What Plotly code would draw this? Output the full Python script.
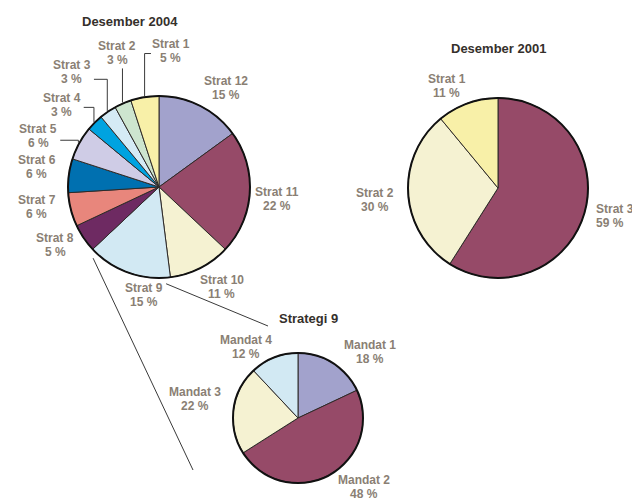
import math
import plotly.graph_objects as go

W, H = 632, 500

# ---------------- data ----------------
p1_title = "Desember 2004"
p1_labels = ["Strat 1", "Strat 2", "Strat 3", "Strat 4", "Strat 5", "Strat 6",
             "Strat 7", "Strat 8", "Strat 9", "Strat 10", "Strat 11", "Strat 12"]
p1_values = [5, 3, 3, 3, 6, 6, 6, 5, 15, 11, 22, 15]

p2_title = "Desember 2001"
p2_labels = ["Strat 1", "Strat 2", "Strat 3"]
p2_values = [11, 30, 59]

p3_title = "Strategi 9"
p3_labels = ["Mandat 1", "Mandat 2", "Mandat 3", "Mandat 4"]
p3_values = [18, 48, 22, 12]

# ---------------- styles ----------------
p1_colors = ["#F8F0A8", "#CDE5CF", "#D5EBF5", "#00A3E0", "#CFCCE6", "#0070B0",
             "#E8867C", "#6E2A62", "#D2E9F3", "#F5F2D2", "#964A68", "#A2A2CC"]
p2_colors = ["#F8F0A8", "#F5F2D2", "#964A68"]
p3_colors = ["#A2A2CC", "#964A68", "#F5F2D2", "#D2E9F3"]

# pie geometry (pixels): center x, center y, radius, slice direction from 12 o'clock
P1 = dict(cx=159, cy=187, r=91, direction="counterclockwise")
P2 = dict(cx=498, cy=188, r=90, direction="counterclockwise")
P3 = dict(cx=298, cy=418, r=65, direction="clockwise")

# label placement: (angle nudge in degrees, distance from centre in px)
p1_lab = [(14, 137), (6, 140), (-3, 144), (-5, 127), (-6, 131), (2, 124),
          (5, 124), (5, 119), (-12, 109), (-5, 118), (2, 119), (7, 120)]
p2_lab = [(-7, 114), (-2, 124), (-3, 121)]
p3_lab = [(15, 98), (-15, 96), (3, 105), (-15, 88)]

FONT_FAMILY = "Liberation Sans Narrow, Arial Narrow, sans-serif"
LABEL_FONT = dict(family=FONT_FAMILY, size=12, color="#8A7F74")
TITLE_FONT = dict(family=FONT_FAMILY, size=13, color="#35302B")
LINE_GAP = 14   # px between the two label lines


def px(x):
    return x / W


def py(y):
    return 1 - y / H


def mid_angles(values, direction):
    """Clockwise angle from 12 o'clock of each slice centre."""
    tot = sum(values)
    out, cum = [], 0
    for v in values:
        frac = (cum + v / 2) / tot
        out.append(frac * 360 if direction == "clockwise" else 360 - frac * 360)
        cum += v
    return out


def edge_angles(values, direction):
    tot = sum(values)
    out, cum = [], 0
    for v in values:
        cum += v
        frac = cum / tot
        out.append(frac * 360 if direction == "clockwise" else 360 - frac * 360)
    return out


def polar(p, ang, d):
    t = math.radians(ang)
    return p["cx"] + d * math.sin(t), p["cy"] - d * math.cos(t)


def domain(p):
    return dict(x=[px(p["cx"] - p["r"]), px(p["cx"] + p["r"])],
                y=[py(p["cy"] + p["r"]), py(p["cy"] - p["r"])])


fig = go.Figure()
annotations = []
shapes = []
label_pos = {}

for key, p, labels, values, colors, lab in [
    ("p1", P1, p1_labels, p1_values, p1_colors, p1_lab),
    ("p2", P2, p2_labels, p2_values, p2_colors, p2_lab),
    ("p3", P3, p3_labels, p3_values, p3_colors, p3_lab),
]:
    # counter-clockwise order is drawn as the reversed clockwise sequence
    if p["direction"] == "counterclockwise":
        t_labels, t_values, t_colors = labels[::-1], values[::-1], colors[::-1]
    else:
        t_labels, t_values, t_colors = labels, values, colors
    fig.add_trace(go.Pie(
        labels=t_labels, values=t_values, sort=False, direction="clockwise",
        rotation=0, domain=domain(p), textinfo="none", hoverinfo="label+percent",
        marker=dict(colors=t_colors, line=dict(color="#2E2A28", width=1)),
        showlegend=False,
    ))
    d = domain(p)
    shapes.append(dict(type="circle", xref="paper", yref="paper",
                       x0=d["x"][0], x1=d["x"][1], y0=d["y"][0], y1=d["y"][1],
                       line=dict(color="#111111", width=2), layer="above"))
    mids = mid_angles(values, p["direction"])
    label_pos[key] = []
    for i, (lbl, v) in enumerate(zip(labels, values)):
        nudge, dist = lab[i]
        x, y = polar(p, mids[i] + nudge, dist)
        label_pos[key].append((x, y))
        xanchor = "center"
        if key == "p2" and i == 2:
            x -= 21
            xanchor = "left"
        for txt, dy in [(lbl, -LINE_GAP / 2), (f"{v} %", LINE_GAP / 2)]:
            annotations.append(dict(
                x=px(x), y=py(y + dy), xref="paper", yref="paper", showarrow=False,
                text=f"<b>{txt}</b>", font=LABEL_FONT, align="center",
                xanchor=xanchor, yanchor="middle", borderpad=0,
            ))

# titles
for t, (x, y) in [(p1_title, (130, 21)), (p2_title, (498, 49)), (p3_title, (308, 318))]:
    annotations.append(dict(x=px(x), y=py(y), xref="paper", yref="paper",
                            xanchor="center", yanchor="middle",
                            showarrow=False, text=f"<b>{t}</b>", font=TITLE_FONT))

# leader lines for the small slices of pie 1
mids1 = mid_angles(p1_values, P1["direction"])
leader_steps = {
    0: [("v", 3), ("h", -20)],
    1: [("v", 15)],
    2: [("v", 7), ("h", 22)],
    3: [("v", 2), ("h", 22)],
    4: [("v", 4), ("h", 22)],
}
for i, steps in leader_steps.items():
    x, y = polar(P1, mids1[i], P1["r"] + 1)
    lx, ly = label_pos["p1"][i]
    path = f"M {px(x)} {py(y)}"
    for kind, off in steps:
        if kind == "v":
            y = ly + off
        else:
            x = lx + off
        path += f" L {px(x)} {py(y)}"
    shapes.append(dict(type="path", xref="paper", yref="paper", path=path,
                       line=dict(color="#3A3A3A", width=1)))

# lines from the Strat 9 slice edges to the Strategi 9 pie
edges1 = edge_angles(p1_values, P1["direction"])
i9 = p1_labels.index("Strat 9")
edge_a = edges1[i9 - 1]   # Strat 8 / Strat 9 boundary
edge_b = edges1[i9]       # Strat 9 / Strat 10 boundary
for ang, (ex, ey) in [(edge_b + 3, (268, 326)), (edge_a - 4, (193, 470))]:
    sx, sy = polar(P1, ang, P1["r"] + 6)
    shapes.append(dict(type="line", xref="paper", yref="paper",
                       x0=px(sx), y0=py(sy), x1=px(ex), y1=py(ey),
                       line=dict(color="#3A3A3A", width=1)))

fig.update_layout(
    width=W, height=H, margin=dict(l=0, r=0, t=0, b=0),
    paper_bgcolor="white", plot_bgcolor="white",
    annotations=annotations, shapes=shapes,
)

fig.write_html("out.html")
